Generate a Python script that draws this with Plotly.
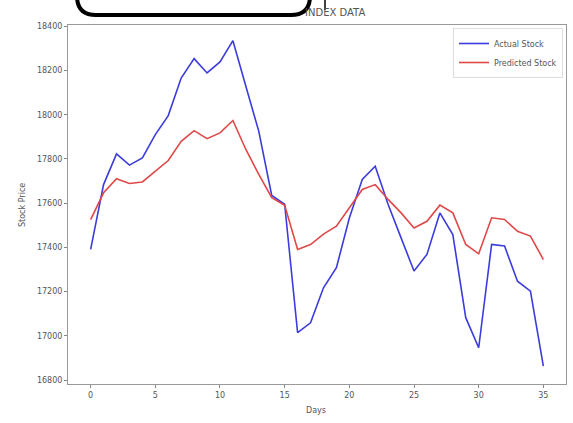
import plotly.graph_objects as go

days = list(range(36))
actual_stock = [17391, 17684, 17823, 17772, 17805, 17910, 17996, 18166, 18254, 18189,
                18239, 18335, 18129, 17925, 17635, 17595, 17014, 17059, 17217, 17308,
                17533, 17707, 17767, 17594, 17443, 17293, 17368, 17556, 17458, 17082,
                16946, 17413, 17406, 17247, 17202, 16863]
predicted_stock = [17526, 17647, 17711, 17689, 17696, 17745, 17793, 17880, 17928, 17892,
                   17918, 17974, 17843, 17730, 17625, 17590, 17391, 17413, 17460, 17496,
                   17579, 17662, 17684, 17617, 17556, 17488, 17518, 17591, 17556, 17413,
                   17371, 17534, 17526, 17473, 17451, 17345]
y_ticks = [16800, 17000, 17200, 17400, 17600, 17800, 18000, 18200, 18400]
x_ticks = [0, 5, 10, 15, 20, 25, 30, 35]

W, H = 573, 423
L, R, T, B = 68, 7, 25, 39
pw, ph = W - L - R, H - T - B

def px(x):
    return (x - L) / pw

def py(y):
    return (H - B - y) / ph

fig = go.Figure()
fig.add_trace(go.Scatter(x=days, y=actual_stock, mode="lines", name="Actual Stock",
                         line=dict(color="#3c3cdc", width=1.6)))
fig.add_trace(go.Scatter(x=days, y=predicted_stock, mode="lines", name="Predicted Stock",
                         line=dict(color="#e04848", width=1.6)))

# rounded black box at top
x0, x1, y0, y1, r = 77, 310, -25, 15, 19
path = (f"M {px(x0)},{py(y0)} L {px(x0)},{py(y1 - r)} "
        f"Q {px(x0)},{py(y1)} {px(x0 + r)},{py(y1)} "
        f"L {px(x1 - r)},{py(y1)} Q {px(x1)},{py(y1)} {px(x1)},{py(y1 - r)} "
        f"L {px(x1)},{py(y0)} Z")
shapes = [
    dict(type="path", xref="paper", yref="paper", path=path,
         line=dict(color="black", width=4), fillcolor="white", layer="above"),
    dict(type="line", xref="paper", yref="paper", x0=px(325), x1=px(325),
         y0=py(-1), y1=py(10), line=dict(color="black", width=1.5), layer="above"),
]

fig.update_layout(
    width=W, height=H,
    margin=dict(l=L, r=R, t=T, b=B, autoexpand=False),
    paper_bgcolor="white", plot_bgcolor="white",
    font=dict(family="DejaVu Sans, sans-serif", size=8, color="#555"),
    shapes=shapes,
    annotations=[
        dict(text="INDEX DATA", xref="paper", yref="paper",
             x=px(303), y=py(12.5), xanchor="left", yanchor="middle",
             showarrow=False, font=dict(size=10, color="#555")),
        dict(text="Days", xref="paper", yref="paper",
             x=px(316), y=py(410), xanchor="center", yanchor="middle",
             showarrow=False, font=dict(size=8, color="#555")),
        dict(text="Stock Price", xref="paper", yref="paper", textangle=-90,
             x=px(22), y=py(205), xanchor="center", yanchor="middle",
             showarrow=False, font=dict(size=8, color="#555")),
    ],
    legend=dict(x=px(563), y=py(28), xanchor="right", yanchor="top",
                bgcolor="white", bordercolor="#dddddd", borderwidth=1,
                font=dict(size=8, color="#555"), tracegroupgap=0, itemwidth=30),
    showlegend=True,
)
fig.update_xaxes(range=[-1.75, 36.75], tickvals=x_ticks, ticks="outside", ticklen=3,
                 tickcolor="#888", showline=True, linecolor="#999", linewidth=1,
                 mirror=True, showgrid=False, zeroline=False, automargin=False,
                 tickformat="d")
fig.update_yaxes(range=[16782, 18406], tickvals=y_ticks, ticks="outside", ticklen=3,
                 tickcolor="#888", showline=True, linecolor="#999", linewidth=1,
                 mirror=True, showgrid=False, zeroline=False, automargin=False,
                 tickformat="d")

fig.write_html("out.html", config={"displayModeBar": False},
               post_script="document.body.style.margin='0';")
